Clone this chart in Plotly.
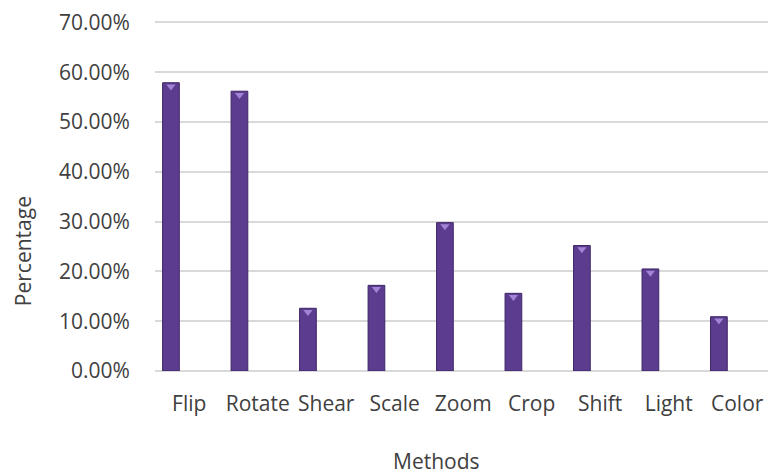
import numpy as np
import plotly.graph_objects as go

categories = ["Flip", "Rotate", "Shear", "Scale", "Zoom", "Crop", "Shift", "Light", "Color"]
percentages = [0.579, 0.562, 0.126, 0.172, 0.298, 0.156, 0.252, 0.205, 0.109]
y_ticks = [0.0, 0.1, 0.2, 0.3, 0.4, 0.5, 0.6, 0.7]
y_tick_labels = ["0.00%", "10.00%", "20.00%", "30.00%", "40.00%", "50.00%", "60.00%", "70.00%"]

positions = np.arange(len(categories))
bar_shift = -0.267
bar_x = positions + bar_shift
vals = np.array(percentages)

font_family = "Open Sans"
text_color = "#404040"
fs = 21

fig = go.Figure()
fig.add_trace(go.Bar(
    x=bar_x, y=vals, width=0.244,
    marker=dict(color="#5c3c8e", line=dict(color="#3e2567", width=1)),
    hoverinfo="skip", showlegend=False,
))
fig.add_trace(go.Scatter(
    x=bar_x, y=vals - 0.0075, mode="markers",
    marker=dict(symbol="triangle-down", size=8, color="#a184d6", line=dict(width=0)),
    hoverinfo="skip", showlegend=False,
))

fig.update_layout(
    width=768, height=476,
    margin=dict(l=155, r=0, t=19.5, b=105),
    paper_bgcolor="white", plot_bgcolor="white",
    font=dict(family=font_family, size=fs, color=text_color),
    xaxis=dict(
        range=[-0.5, 8.45], tickmode="array", tickvals=positions, ticktext=categories,
        showgrid=False, zeroline=False, showline=False,
        ticks="outside", ticklen=14, tickcolor="rgba(0,0,0,0)",
        tickfont=dict(size=fs, color=text_color), ticklabeloverflow="allow",
    ),
    yaxis=dict(
        range=[0, 0.705], tickmode="array", tickvals=y_ticks, ticktext=y_tick_labels,
        showgrid=True, gridcolor="#d9d9d9", gridwidth=1.5,
        zeroline=True, zerolinecolor="#d9d9d9", zerolinewidth=1.5, showline=False,
        ticks="outside", ticklen=20, tickcolor="rgba(0,0,0,0)",
        tickfont=dict(size=fs, color=text_color), ticklabeloverflow="allow",
    ),
    annotations=[
        dict(text="Percentage", xref="paper", yref="paper", x=-0.215, y=0.342,
             textangle=-90, showarrow=False, xanchor="center", yanchor="middle",
             font=dict(size=fs, color=text_color, family=font_family)),
        dict(text="Methods", xref="paper", yref="paper", x=0.46, y=-0.256,
             showarrow=False, xanchor="center", yanchor="middle",
             font=dict(size=fs, color=text_color, family=font_family)),
    ],
)

fig.write_html("out.html", config={"displayModeBar": False},
               post_script="document.body.style.margin='0';")
